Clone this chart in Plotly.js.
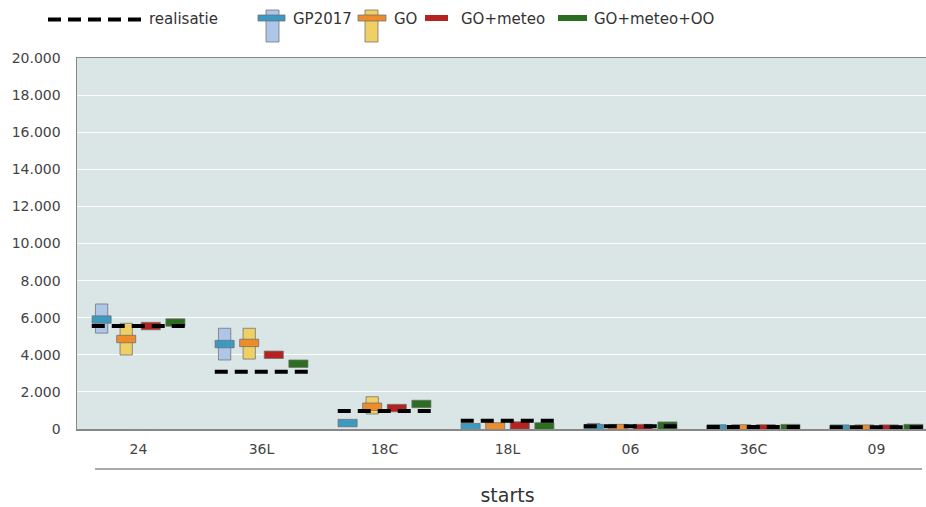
<!DOCTYPE html>
<html>
<head>
<meta charset="utf-8">
<script src="https://cdn.plot.ly/plotly-3.0.1.min.js"></script>
<style>
  html, body { margin: 0; padding: 0; overflow: hidden; background: #fff; }
  #chart { width: 940px; height: 507px; }
</style>
</head>
<body>
<div id="chart"></div>
<script>
// ---- data ----
const categories = ['24', '36L', '18C', '18L', '06', '36C', '09'];
const realisatie = [5550, 3090, 970, 450, 150, 110, 90];
const gp2017Low  = [5170, 3720, 250, 50, 0, 0, 0];
const gp2017High = [6740, 5430, 420, 150, 300, 100, 50];
const gp2017Mid  = [5900, 4580, 320, 100, 50, 30, 20];
const goLow      = [3990, 3770, 810, 80, 0, 0, 0];
const goHigh     = [5700, 5430, 1740, 180, 150, 80, 40];
const goMid      = [4850, 4640, 1200, 140, 50, 30, 20];
const goMeteo    = [5550, 4000, 1130, 190, 50, 30, 20];
const goMeteoOO  = [5740, 3520, 1350, 140, 180, 50, 50];
const yTicks     = [0, 2000, 4000, 6000, 8000, 10000, 12000, 14000, 16000, 18000, 20000];

// ---- styles ----
const T = 400;            // thickness of the central marks (data units)
const OUTLINE = 'rgba(110,110,110,0.75)';
const C = {
  gpLight: '#aec6e8', gpMid: '#3c99bf',
  goLight: '#efd064', goMid: '#ec8c2c',
  meteo: '#b5221f', oo: '#2c6e1f'
};
const idx = categories.map((c, i) => i);
const off = { gp: -0.3, go: -0.1, meteo: 0.1, oo: 0.3 };

function rangeBar(low, high, o, color) {
  return {
    type: 'bar', x: idx.map(i => i + o), base: low, y: high.map((h, i) => h - low[i]),
    width: 0.1, marker: { color: color, line: { color: OUTLINE, width: 1 } }, hoverinfo: 'skip'
  };
}
function midBar(v, o, color) {
  return {
    type: 'bar', x: idx.map(i => i + o), base: v.map(d => d - T / 2), y: v.map(() => T),
    width: 0.155, marker: { color: color, line: { color: OUTLINE, width: 1 } }, hoverinfo: 'skip'
  };
}

// realisatie dashed segments
const HW = 0.38;
const rx = [], ry = [];
idx.forEach(i => { rx.push(i - HW, i + HW, null); ry.push(realisatie[i], realisatie[i], null); });

const traces = [
  rangeBar(gp2017Low, gp2017High, off.gp, C.gpLight),
  rangeBar(goLow, goHigh, off.go, C.goLight),
  midBar(gp2017Mid, off.gp, C.gpMid),
  midBar(goMid, off.go, C.goMid),
  midBar(goMeteo, off.meteo, C.meteo),
  midBar(goMeteoOO, off.oo, C.oo),
  { type: 'scatter', mode: 'lines', x: rx, y: ry,
    line: { color: '#000', width: 4, dash: '13px,7px' }, hoverinfo: 'skip' }
];

// ---- layout helpers (pixel -> paper) ----
const L = 77, TOP = 58, W = 861, H = 371;
const px = x => (x - L) / W;
const py = y => (TOP + H - y) / H;

const shapes = [
  // divider line under category labels
  { type: 'line', xref: 'paper', yref: 'paper', x0: px(95), x1: px(922), y0: py(469), y1: py(469),
    line: { color: '#555', width: 1 } },
  // legend: realisatie
  { type: 'line', xref: 'paper', yref: 'paper', x0: px(48), x1: px(142), y0: py(19.5), y1: py(19.5),
    line: { color: '#000', width: 4, dash: '13px,7px' } },
  // GP2017
  { type: 'rect', xref: 'paper', yref: 'paper', x0: px(266), x1: px(279), y0: py(42), y1: py(10),
    fillcolor: C.gpLight, line: { color: OUTLINE, width: 1 } },
  { type: 'rect', xref: 'paper', yref: 'paper', x0: px(258), x1: px(285), y0: py(21), y1: py(15),
    fillcolor: C.gpMid, line: { color: OUTLINE, width: 1 } },
  // GO
  { type: 'rect', xref: 'paper', yref: 'paper', x0: px(365), x1: px(378), y0: py(42), y1: py(10),
    fillcolor: C.goLight, line: { color: OUTLINE, width: 1 } },
  { type: 'rect', xref: 'paper', yref: 'paper', x0: px(358), x1: px(386), y0: py(21), y1: py(15),
    fillcolor: C.goMid, line: { color: OUTLINE, width: 1 } },
  // GO+meteo
  { type: 'rect', xref: 'paper', yref: 'paper', x0: px(425), x1: px(448), y0: py(21), y1: py(15),
    fillcolor: C.meteo, line: { color: OUTLINE, width: 0 } },
  // GO+meteo+OO
  { type: 'rect', xref: 'paper', yref: 'paper', x0: px(558), x1: px(587), y0: py(21), y1: py(15),
    fillcolor: C.oo, line: { color: OUTLINE, width: 0 } }
];

const legendFont = { family: 'DejaVu Sans, sans-serif', size: 15, color: '#333' };
const legendItems = [
  { text: 'realisatie', x: 147 },
  { text: 'GP2017', x: 291 },
  { text: 'GO', x: 392 },
  { text: 'GO+meteo', x: 459 },
  { text: 'GO+meteo+OO', x: 592 }
];
const annotations = legendItems.map(it => ({
  xref: 'paper', yref: 'paper', x: px(it.x), y: py(19.5), xanchor: 'left', yanchor: 'middle',
  text: it.text, showarrow: false, font: legendFont
}));

const layout = {
  width: 940, height: 507,
  margin: { l: L, r: 940 - L - W, t: TOP, b: 507 - TOP - H },
  paper_bgcolor: '#fff', plot_bgcolor: '#dae6e6',
  separators: ',.',
  barmode: 'overlay',
  showlegend: false,
  hovermode: false,
  font: { family: 'DejaVu Sans, sans-serif', color: '#444' },
  xaxis: {
    range: [-0.5, 6.5], tickmode: 'array', tickvals: idx, ticktext: categories,
    showgrid: false, zeroline: false, showline: true, mirror: true,
    linecolor: '#888', linewidth: 1.5, ticks: '', ticklabelstandoff: 7,
    tickfont: { size: 14, color: '#444' },
    title: { text: 'starts', font: { size: 19, color: '#333' }, standoff: 32 },
    automargin: false, fixedrange: true
  },
  yaxis: {
    range: [0, 20000], tickmode: 'array', tickvals: yTicks, tickformat: ',d',
    showgrid: true, gridcolor: '#ffffff', gridwidth: 1, zeroline: false,
    showline: true, mirror: true, linecolor: '#888', linewidth: 1.5,
    ticks: '', ticklabelstandoff: 12, tickfont: { size: 14, color: '#444' },
    automargin: false, fixedrange: true
  },
  shapes: shapes,
  annotations: annotations
};

Plotly.newPlot('chart', traces, layout, { staticPlot: true, displayModeBar: false });
</script>
</body>
</html>
